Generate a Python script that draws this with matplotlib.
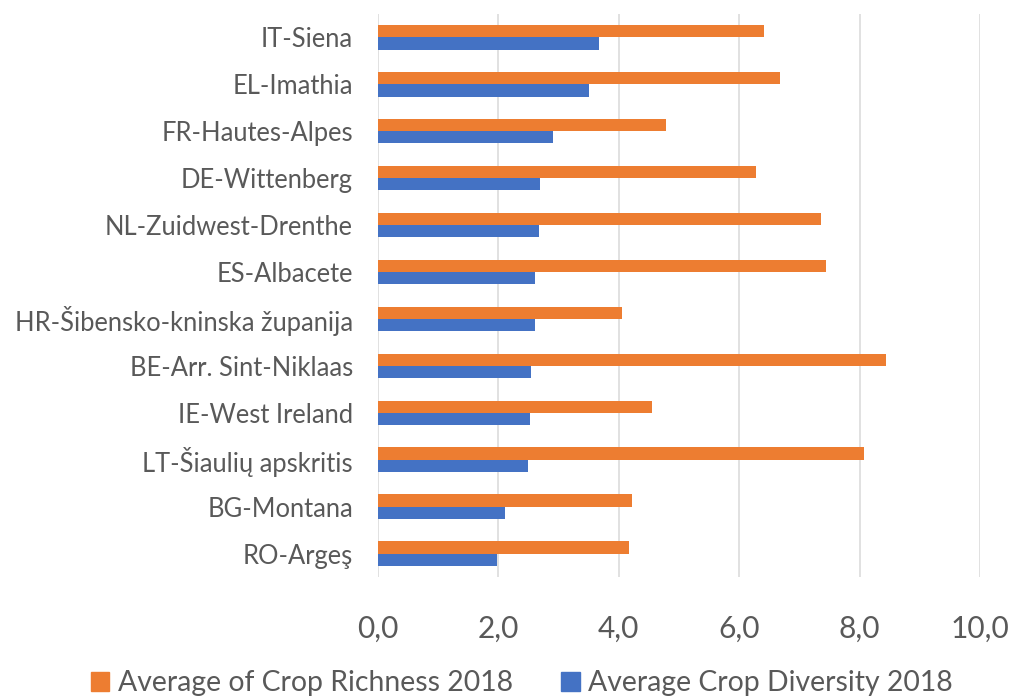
import matplotlib
matplotlib.use("Agg")
import matplotlib.pyplot as plt
from matplotlib.patches import Patch

plt.rcParams['font.family'] = ['Lato', 'DejaVu Sans']

# ------------------------------------------------------------------------------
# data (top to bottom as shown)
# ------------------------------------------------------------------------------
regions = [
    "IT-Siena", "EL-Imathia", "FR-Hautes-Alpes", "DE-Wittenberg",
    "NL-Zuidwest-Drenthe", "ES-Albacete", "HR-Šibensko-kninska županija",
    "BE-Arr. Sint-Niklaas", "IE-West Ireland", "LT-Šiaulių apskritis",
    "BG-Montana", "RO-Argeş",
]
crop_richness = [6.42, 6.68, 4.78, 6.28, 7.36, 7.45, 4.06, 8.44, 4.55, 8.08, 4.22, 4.17]
crop_diversity = [3.68, 3.50, 2.90, 2.69, 2.67, 2.61, 2.61, 2.54, 2.52, 2.49, 2.11, 1.97]
x_ticks = [0, 2, 4, 6, 8, 10]

ORANGE = "#ED7D31"
BLUE = "#4472C4"
TXT = "#595959"

fig = plt.figure(figsize=(10.13, 6.96), dpi=100)
ax = fig.add_axes([0.3731, 0.1710, 0.5943, 0.8089])

pos = list(range(len(regions)))
h = 0.26
ax.barh([p - h / 2 for p in pos], crop_richness, height=h, color=ORANGE, zorder=3)
ax.barh([p + h / 2 for p in pos], crop_diversity, height=h, color=BLUE, zorder=3)

ax.set_ylim(len(regions) - 0.5, -0.5)
ax.set_xlim(0, 10)
ax.set_yticks(pos)
ax.set_yticklabels(regions, fontsize=18.4, color=TXT)
ax.set_xticks(x_ticks)
ax.set_xticklabels([f"{t:.1f}".replace(".", ",") for t in x_ticks], fontsize=21.5, color=TXT)
ax.tick_params(axis="y", length=0, pad=18)
ax.tick_params(axis="x", length=0, pad=27)

ax.grid(axis="x", color="#D9D9D9", linewidth=1.1, zorder=0)
for s in ax.spines.values():
    s.set_visible(False)

handles = [Patch(color=ORANGE), Patch(color=BLUE)]
fig.legend(handles, ["Average of Crop Richness 2018", "Average Crop Diversity 2018"],
           loc="center", bbox_to_anchor=(522 / 1013, 1 - 683 / 696), ncol=2,
           frameon=False, fontsize=20.4, labelcolor=TXT,
           handlelength=0.65, handleheight=0.65, handletextpad=0.3, columnspacing=1.7)

fig.savefig("out.png", dpi=100)
